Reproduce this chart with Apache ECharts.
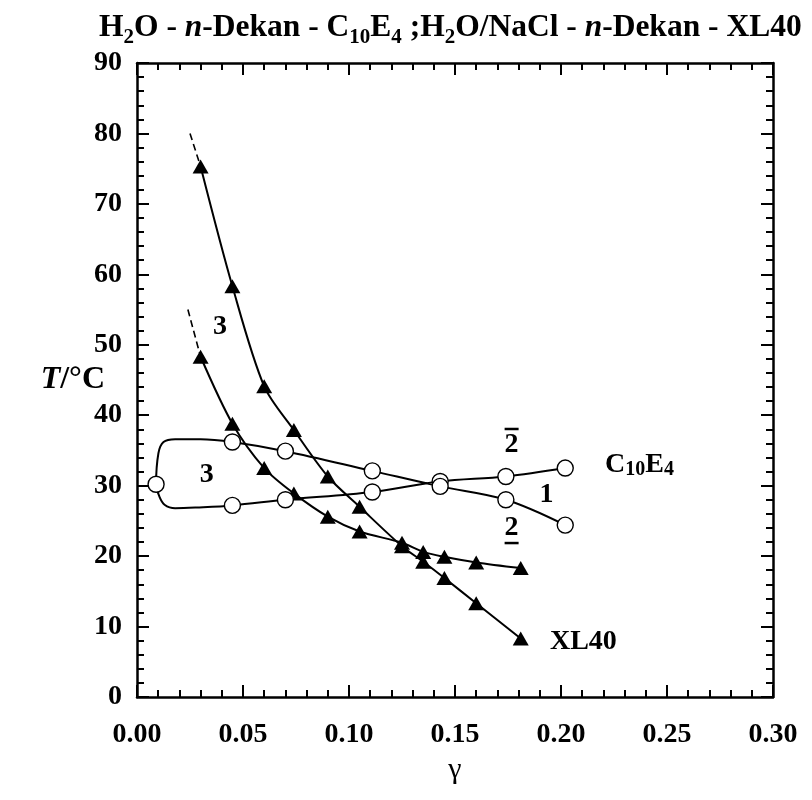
<!DOCTYPE html>
<html>
<head>
<meta charset="utf-8">
<script src="https://cdn.jsdelivr.net/npm/echarts@6/dist/echarts.min.js"></script>
<style>
  html, body { margin: 0; padding: 0; background: #fff; }
  #chart { width: 812px; height: 800px; }
</style>
</head>
<body>
<div id="chart"></div>
<script>
// Axis ranges and tick steps
const xRange = [0, 0.30];
const xStep = 0.05;
const yRange = [0, 90];
const yStep = 10;

// XL40 (H2O/NaCl - n-Dekan): upper branch of the three-phase body
const xl40UpperX = [0.030, 0.045, 0.060, 0.074, 0.090, 0.105, 0.125, 0.135, 0.145, 0.160, 0.181];
const xl40UpperT = [75.3, 58.3, 44.1, 37.9, 31.3, 27.0, 21.4, 19.2, 16.9, 13.3, 8.3];
// XL40: lower branch
const xl40LowerX = [0.030, 0.045, 0.060, 0.074, 0.090, 0.105, 0.125, 0.135, 0.145, 0.160, 0.181];
const xl40LowerT = [48.3, 38.8, 32.5, 28.9, 25.6, 23.5, 21.9, 20.6, 19.9, 19.1, 18.3];
// XL40: dashed extrapolation beyond the first measured points
const xl40UpperDashX = [0.025, 0.030];
const xl40UpperDashT = [80.0, 75.3];
const xl40LowerDashX = [0.024, 0.030];
const xl40LowerDashT = [55.0, 48.3];

// C10E4 (H2O - n-Dekan): branch rising towards the right (2-bar side)
const c10LowerX = [0.045, 0.070, 0.111, 0.143, 0.174, 0.202];
const c10LowerT = [27.2, 28.0, 29.1, 30.6, 31.3, 32.5];
// C10E4: branch falling towards the right (2-underbar side)
const c10UpperX = [0.045, 0.070, 0.111, 0.143, 0.174, 0.202];
const c10UpperT = [36.2, 34.9, 32.1, 29.9, 28.0, 24.4];
// C10E4: point of the three-phase body at lowest gamma
const c10CritX = [0.009];
const c10CritT = [30.2];
// Rounded corners of the C10E4 fish-head near the critical point
const loopUpperX = [0.0101, 0.0125, 0.018, 0.030];
const loopUpperT = [34.6, 36.2, 36.6, 36.6];
const loopLowerX = [0.0105, 0.013, 0.018, 0.028];
const loopLowerT = [28.5, 27.3, 26.8, 26.9];

// Phase labels
const annoX = [0.0329, 0.0392, 0.1767, 0.1932, 0.1767];
const annoT = [31.5, 52.6, 36.2, 28.7, 23.7];
const annoText = ['{n|3}', '{n|3}', '{bar|}\n{n|2}', '{n|1}', '{n|2}\n{bar|}'];
// Curve names
const nameX = [0.2208, 0.1948];
const nameT = [32.9, 7.9];
const nameText = ['{n|C}{s|10}{n|E}{s|4}', '{n|XL40}'];

const serif = '"Liberation Serif", "Times New Roman", serif';
const pts = (xs, ys) => xs.map((x, i) => [x, ys[i]]);

const c10Path = [
  ...pts(c10LowerX, c10LowerT).reverse(),
  ...pts(loopLowerX, loopLowerT).reverse(),
  ...pts(c10CritX, c10CritT),
  ...pts(loopUpperX, loopUpperT),
  ...pts(c10UpperX, c10UpperT)
];

const axisLineStyle = { color: '#000', width: 2.5 };
const tickStyle = { color: '#000', width: 2 };

function xAxisDef(position, showLabels) {
  return {
    type: 'value', position: position,
    min: xRange[0], max: xRange[1], interval: xStep,
    name: showLabels ? 'γ' : '',
    nameLocation: 'middle', nameGap: 58, nameMoveOverlap: false,
    nameTextStyle: { fontFamily: serif, fontSize: 30, color: '#000' },
    axisLine: { show: true, onZero: false, lineStyle: axisLineStyle },
    axisTick: { show: true, inside: true, length: 12, lineStyle: tickStyle },
    minorTick: { show: true, splitNumber: 5, length: 7, lineStyle: tickStyle },
    splitLine: { show: false },
    axisLabel: {
      show: showLabels, margin: 24,
      fontFamily: serif, fontWeight: 'bold', fontSize: 28, color: '#000',
      formatter: v => v.toFixed(2)
    }
  };
}

function yAxisDef(position, showLabels) {
  return {
    type: 'value', position: position,
    min: yRange[0], max: yRange[1], interval: yStep,
    name: showLabels ? '{i|T}{n|/°C}' : '',
    nameLocation: 'middle', nameGap: 32, nameRotate: 0, nameMoveOverlap: false,
    nameTextStyle: {
      color: '#000',
      rich: {
        i: { fontFamily: serif, fontSize: 32, fontWeight: 'bold', fontStyle: 'italic', color: '#000' },
        n: { fontFamily: serif, fontSize: 32, fontWeight: 'bold', color: '#000' }
      }
    },
    axisLine: { show: true, onZero: false, lineStyle: axisLineStyle },
    axisTick: { show: true, inside: true, length: 12, lineStyle: tickStyle },
    minorTick: { show: true, splitNumber: 5, length: 7, lineStyle: tickStyle },
    splitLine: { show: false },
    axisLabel: {
      show: showLabels, margin: 15,
      fontFamily: serif, fontWeight: 'bold', fontSize: 28, color: '#000'
    }
  };
}

const curveStyle = { color: '#000', width: 2 };

const option = {
  animation: false,
  backgroundColor: '#fff',
  title: {
    left: 94, top: 3,
    text: 'H{s|2}O - {i|n}-Dekan - C{s|10}E{s|4} ;H{s|2}O/NaCl - {i|n}-Dekan - XL40',
    textStyle: {
      fontFamily: serif, fontSize: 31.5, fontWeight: 'bold', color: '#000', lineHeight: 40,
      rich: {
        s: { fontFamily: serif, fontSize: 21, fontWeight: 'bold', color: '#000', verticalAlign: 'bottom', lineHeight: 18 },
        i: { fontFamily: serif, fontSize: 31.5, fontWeight: 'bold', fontStyle: 'italic', color: '#000', lineHeight: 40 }
      }
    }
  },
  grid: { left: 137, right: 39, top: 63, bottom: 103, show: false },
  xAxis: [xAxisDef('bottom', true), xAxisDef('top', false)],
  yAxis: [yAxisDef('left', true), yAxisDef('right', false)],
  series: [
    {
      type: 'line', data: pts(xl40UpperX, xl40UpperT), smooth: 0.3,
      symbol: 'none', lineStyle: curveStyle, z: 2
    },
    {
      type: 'line', data: pts(xl40LowerX, xl40LowerT), smooth: 0.3,
      symbol: 'none', lineStyle: curveStyle, z: 2
    },
    {
      type: 'line', data: pts(xl40UpperDashX, xl40UpperDashT),
      symbol: 'none', lineStyle: { color: '#000', width: 1.6, type: [7, 4] }, z: 2
    },
    {
      type: 'line', data: pts(xl40LowerDashX, xl40LowerDashT),
      symbol: 'none', lineStyle: { color: '#000', width: 1.6, type: [7, 4] }, z: 2
    },
    {
      type: 'line', data: c10Path, smooth: 0.35,
      symbol: 'none', lineStyle: curveStyle, z: 2
    },
    {
      type: 'scatter',
      data: [...pts(xl40UpperX, xl40UpperT), ...pts(xl40LowerX, xl40LowerT)],
      symbol: 'triangle', symbolSize: [16, 14],
      itemStyle: { color: '#000', opacity: 1 }, z: 4
    },
    {
      type: 'scatter',
      data: [...pts(c10LowerX, c10LowerT), ...pts(c10UpperX, c10UpperT), ...pts(c10CritX, c10CritT)],
      symbol: 'circle', symbolSize: 16,
      itemStyle: { color: '#fff', borderColor: '#000', borderWidth: 1.4, opacity: 1 }, z: 4
    },
    {
      type: 'scatter', symbolSize: 0, silent: true, z: 5,
      itemStyle: { opacity: 1 },
      data: annoX.map((x, i) => ({ value: [x, annoT[i]], label: { formatter: annoText[i] } })),
      label: {
        show: true, position: 'inside', align: 'center', verticalAlign: 'middle',
        rich: {
          n: { fontFamily: serif, fontSize: 28, fontWeight: 'bold', color: '#000', align: 'center', lineHeight: 26 },
          bar: { width: 14, height: 2.5, backgroundColor: '#000', align: 'center', lineHeight: 5 }
        }
      }
    },
    {
      type: 'scatter', symbolSize: 0, silent: true, z: 5,
      itemStyle: { opacity: 1 },
      data: nameX.map((x, i) => ({ value: [x, nameT[i]], label: { formatter: nameText[i] } })),
      label: {
        show: true, position: 'inside', align: 'left', verticalAlign: 'middle',
        rich: {
          n: { fontFamily: serif, fontSize: 28, fontWeight: 'bold', color: '#000', lineHeight: 30 },
          s: { fontFamily: serif, fontSize: 20, fontWeight: 'bold', color: '#000', verticalAlign: 'bottom', lineHeight: 16 }
        }
      }
    }
  ]
};

const chart = echarts.init(document.getElementById('chart'));
chart.setOption(option);
</script>
</body>
</html>
